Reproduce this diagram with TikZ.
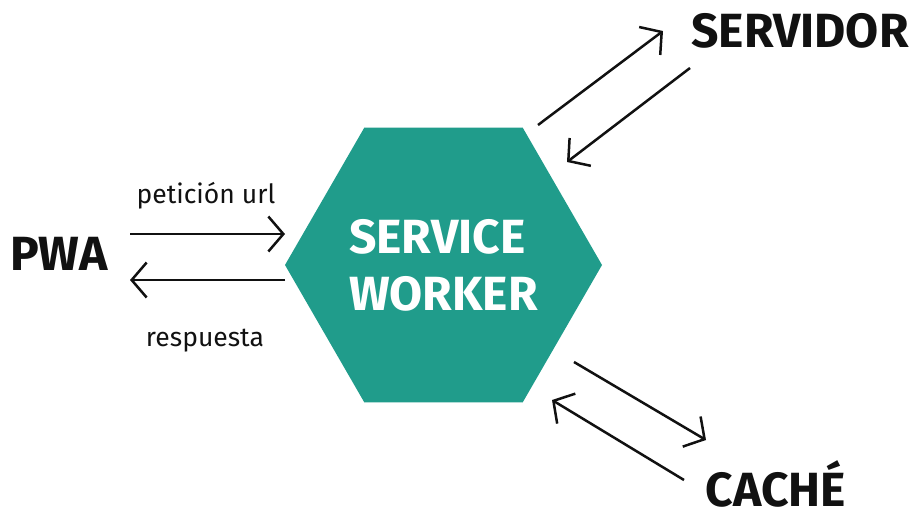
\documentclass[tikz,border=0pt]{standalone}
\usepackage{fontspec}
\setmainfont{Fira Sans}
\usetikzlibrary{arrows.meta,shapes.geometric}
\definecolor{teal1}{HTML}{209C8B}
\definecolor{ink}{HTML}{111111}
\tikzset{
  big/.style={font=\fontsize{48}{50}\selectfont\bfseries, text=ink, inner sep=0pt, anchor=base},
  small/.style={font=\fontsize{26.5}{28}\selectfont, text=ink, inner sep=0pt, anchor=base},
  conn/.style={draw=ink, line width=2.5pt, -{Straight Barb[length=15pt,width=35pt,line width=2.5pt]}},
  hexa/.style={regular polygon, regular polygon sides=6, minimum size=317pt, fill=teal1, inner sep=0pt,
    text=white, align=left, font=\fontsize{48}{57}\selectfont\bfseries}
}
\begin{document}
\begin{tikzpicture}[x=1pt,y=-1pt]
\useasboundingbox (0,0) rectangle (913,512);
\node[hexa] (sw) at (443.5,265) {SERVICE\\WORKER};
\node[big] (pwa) at (59,270) {PWA};
\node[big] (srv) at (800,47) {SERVIDOR};
\node[big] (cache) at (776,506) {CACHÉ};
\node[small] (req) at (206,203) {petición url};
\node[small] (res) at (205,346) {respuesta};
% endpoints
\coordinate (a1s) at (130,234); \coordinate (a1e) at (285,234);
\coordinate (a2s) at (285,280); \coordinate (a2e) at (130,280);
\coordinate (b1s) at (538,125); \coordinate (b1e) at (663,31);
\coordinate (b2s) at (690,68);  \coordinate (b2e) at (567,162);
\coordinate (c1s) at (574,362); \coordinate (c1e) at (706,440);
\coordinate (c2s) at (684,480); \coordinate (c2e) at (552,400);
\draw[conn] (a1s) -- (a1e);
\draw[conn] (a2s) -- (a2e);
\draw[conn] (b1s) -- (b1e);
\draw[conn] (b2s) -- (b2e);
\draw[conn] (c1s) -- (c1e);
\draw[conn] (c2s) -- (c2e);
\end{tikzpicture}
\end{document}
